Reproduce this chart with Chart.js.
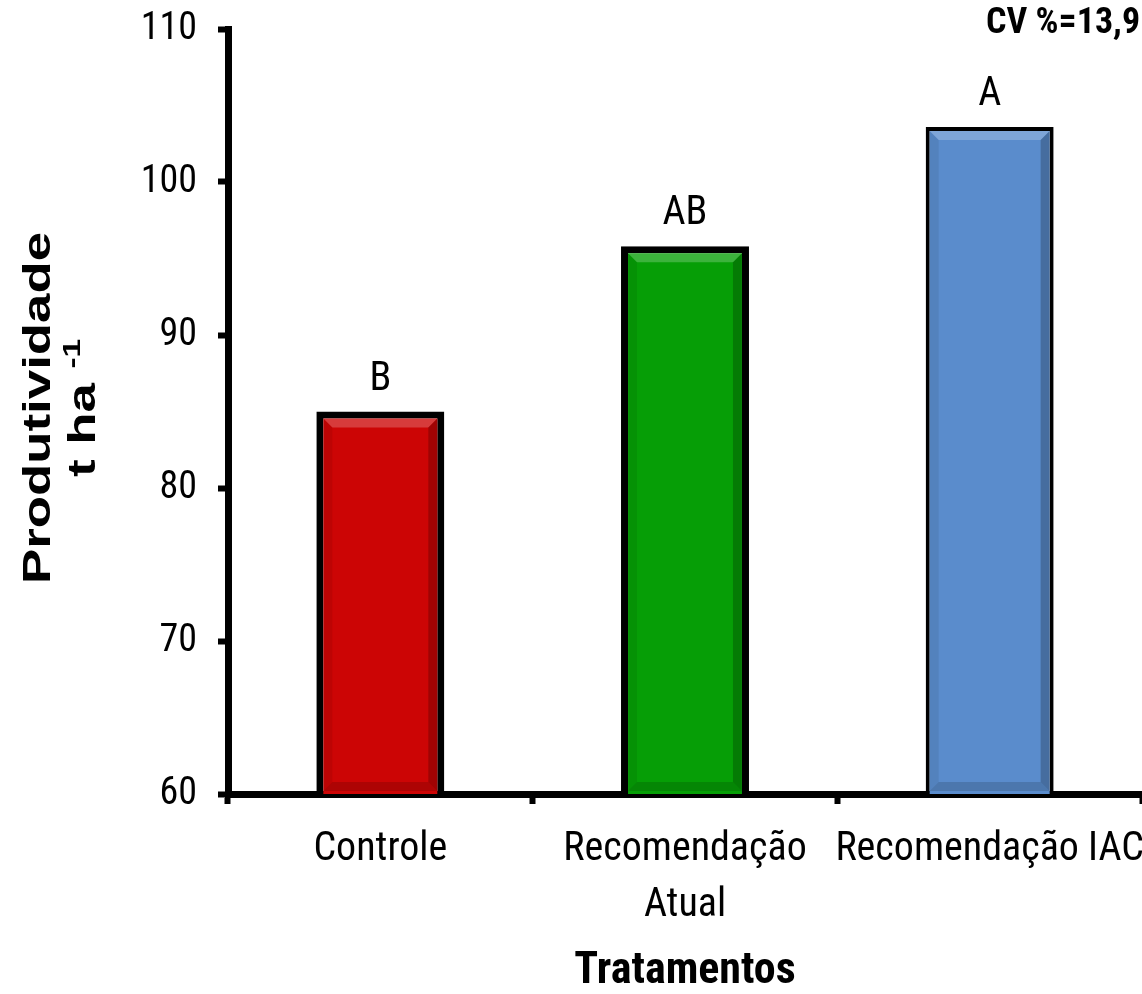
<!DOCTYPE html>
<html>
<head>
<meta charset="utf-8">
<script src="https://cdn.jsdelivr.net/npm/chart.js@4.4.1/dist/chart.umd.min.js"></script>
<style>
  body { margin: 0; background: #fff; }
  #wrap { width: 1142px; height: 994px; position: relative; }
</style>
</head>
<body>
<div id="wrap"><canvas id="grafico"></canvas></div>
<script>
// --- datos ---
const tratamentos = ['Controle', ['Recomendação', 'Atual'], 'Recomendação IAC'];
const produtividade = [85.0, 95.8, 103.6];
const letras = ['B', 'AB', 'A'];
const coresBarra = ['#CC0505', '#069E06', '#5A8CCC'];
const bordasBarra = [7, 7, 4];
const yTicks = [60, 70, 80, 90, 100, 110];

const NARROW = "'Liberation Sans Narrow', 'Arial Narrow', 'Roboto Condensed', sans-serif";
Chart.defaults.font.family = NARROW;
Chart.defaults.color = '#000';

// letras de significancia encima de cada barra + CV
const pluginLetras = {
  id: 'letras',
  afterDatasetsDraw(chart) {
    const ctx = chart.ctx;
    const meta = chart.getDatasetMeta(0);
    ctx.save();
    ctx.fillStyle = '#000';
    ctx.font = '40px ' + NARROW;
    ctx.textAlign = 'center';
    ctx.textBaseline = 'alphabetic';
    meta.data.forEach((bar, i) => {
      ctx.fillText(letras[i], bar.x, bar.y - 22);
    });
    ctx.font = 'bold 36px ' + NARROW;
    ctx.textAlign = 'left';
    ctx.fillText('CV %=13,9', 986, 33);
    ctx.restore();
  }
};

// efecto biselado de las barras
const pluginBisel = {
  id: 'bisel',
  afterDatasetsDraw(chart) {
    const ctx = chart.ctx;
    const area = chart.chartArea;
    const meta = chart.getDatasetMeta(0);
    ctx.save();
    ctx.beginPath();
    ctx.rect(area.left, area.top, area.right - area.left, area.bottom - area.top);
    ctx.clip();
    meta.data.forEach((bar, i) => {
      const p = bar.getProps(['x', 'y', 'base', 'width'], true);
      const bw = bordasBarra[i];
      const l = p.x - p.width / 2 + bw, r = p.x + p.width / 2 - bw;
      const t = p.y + bw, b = Math.min(p.base, area.bottom - 3);
      const s = 9;
      const poly = (pts, col) => {
        ctx.beginPath();
        ctx.moveTo(pts[0][0], pts[0][1]);
        for (let k = 1; k < pts.length; k++) ctx.lineTo(pts[k][0], pts[k][1]);
        ctx.closePath();
        ctx.fillStyle = col;
        ctx.fill();
      };
      poly([[l, t], [r, t], [r - s, t + s], [l + s, t + s]], 'rgba(255,255,255,0.22)');
      poly([[r, t], [r, b], [r - s, b - s], [r - s, t + s]], 'rgba(0,0,0,0.22)');
      poly([[l, b], [r, b], [r - s, b - s], [l + s, b - s]], 'rgba(0,0,0,0.15)');
      poly([[l, t], [l + s, t + s], [l + s, b - s], [l, b]], 'rgba(0,0,0,0.07)');
    });
    ctx.restore();
  }
};

// título del eje Y (rotado y estirado como en el original)
const pluginTituloY = {
  id: 'tituloY',
  afterDraw(chart) {
    const ctx = chart.ctx;
    const cy = 408;
    const estira = 1.39;
    const fGrande = "bold 38px 'Liberation Sans', Arial, sans-serif";
    const fSup = "bold 24px 'Liberation Sans', Arial, sans-serif";
    ctx.save();
    ctx.fillStyle = '#000';
    ctx.textBaseline = 'alphabetic';
    // linea 1
    ctx.save();
    ctx.translate(50, cy);
    ctx.rotate(-Math.PI / 2);
    ctx.scale(estira, 1);
    ctx.font = fGrande;
    ctx.textAlign = 'center';
    ctx.fillText('Produtividade', 0, 0);
    ctx.restore();
    // linea 2 con superindice
    ctx.save();
    ctx.translate(95, cy);
    ctx.rotate(-Math.PI / 2);
    ctx.scale(estira, 1);
    ctx.font = fGrande;
    const base = 't ha ';
    const wBase = ctx.measureText(base).width;
    ctx.font = fSup;
    const wSup = ctx.measureText('-1').width;
    const x0 = -(wBase + wSup) / 2;
    ctx.textAlign = 'left';
    ctx.font = fGrande;
    ctx.fillText(base, x0, 0);
    ctx.font = fSup;
    ctx.fillText('-1', x0 + wBase, -15);
    ctx.restore();
    ctx.restore();
  }
};

new Chart(document.getElementById('grafico'), {
  type: 'bar',
  data: {
    labels: tratamentos,
    datasets: [{
      data: produtividade,
      backgroundColor: coresBarra,
      borderColor: '#000',
      borderWidth: bordasBarra,
      borderSkipped: 'start',
      categoryPercentage: 1,
      barPercentage: 0.42
    }]
  },
  options: {
    responsive: true,
    maintainAspectRatio: false,
    animation: false,
    layout: { padding: { top: 29, right: 0, bottom: 0, left: 0 } },
    plugins: {
      legend: { display: false },
      tooltip: { enabled: false }
    },
    scales: {
      x: {
        z: 1,
        offset: true,
        grid: {
          offset: true,
          drawOnChartArea: false,
          drawTicks: true,
          tickLength: 10,
          tickWidth: 6,
          tickColor: '#000'
        },
        border: { display: true, color: '#000', width: 7 },
        ticks: {
          color: '#000',
          font: { size: 40, lineHeight: 1.4 },
          padding: 18,
          maxRotation: 0,
          autoSkip: false
        },
        title: {
          display: true,
          text: 'Tratamentos',
          color: '#000',
          font: { size: 44, weight: 'bold', lineHeight: 1.0 },
          padding: { top: 0, bottom: 0 }
        },
        afterFit(scale) {
          scale.height = 200;
          scale.paddingLeft = 0;
          scale.paddingRight = 0;
        }
      },
      y: {
        z: 1,
        min: 60,
        max: 110,
        afterBuildTicks(scale) { scale.ticks = yTicks.map(v => ({ value: v })); },
        grid: {
          drawOnChartArea: false,
          drawTicks: true,
          tickLength: 10,
          tickWidth: 6,
          tickColor: '#000'
        },
        border: { display: true, color: '#000', width: 7 },
        ticks: {
          color: '#000',
          font: { size: 38 },
          padding: 21
        },
        afterFit(scale) {
          scale.width = 228;
          scale.paddingTop = 0;
          scale.paddingBottom = 0;
        }
      }
    }
  },
  plugins: [pluginBisel, pluginLetras, pluginTituloY]
});
</script>
</body>
</html>
